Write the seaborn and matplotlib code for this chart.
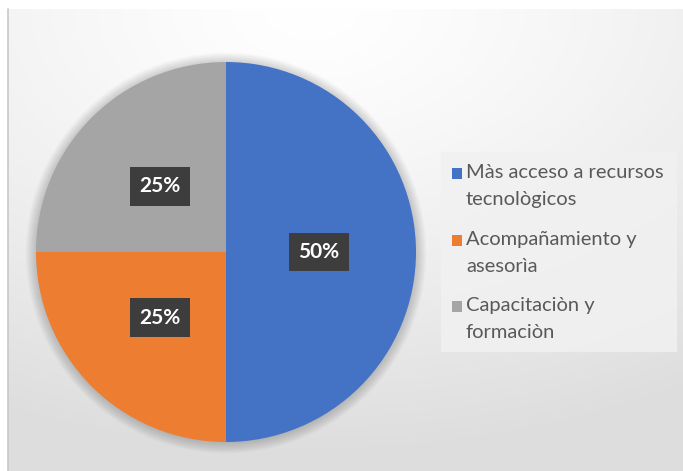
import numpy as np
import matplotlib
matplotlib.use("Agg")
import matplotlib.pyplot as plt
import seaborn as sns
from matplotlib.patches import Circle, Rectangle

sns.set_theme(style="white")
plt.rcParams['font.family'] = ['Lato', 'DejaVu Sans']

categories = ["Màs acceso a recursos\ntecnològicos", "Acompañamiento y\nasesorìa", "Capacitaciòn y\nformaciòn"]
values = [50, 25, 25]
colors = ["#4472C4", "#ED7D31", "#A5A5A5"]

W, H = 683, 471
fig = plt.figure(figsize=(W / 100, H / 100), dpi=100)
fig.patch.set_facecolor("white")

# background gradient panel
bg = fig.add_axes([8 / W, 0, 1 - 8 / W, 1 - 9 / H])
yy, xx = np.mgrid[0:1:300j, 0:1:400j]
d = np.sqrt(((xx - 0.45) * 1.0) ** 2 + ((yy - 0.0) * 1.1) ** 2)
val = 1.0 - 0.13 * np.clip(d / 1.05, 0, 1) ** 1.3
img = np.dstack([val, val, val])
bg.imshow(img, extent=[0, 1, 0, 1], origin="upper", aspect="auto")
bg.set_axis_off()
fig.add_artist(plt.Line2D([8 / W, 8 / W], [0, 1 - 9 / H], color="#c8c8c8", lw=1.2))

# pie
cx, cy, r = 226, 252, 190
m = 1.08
ax = fig.add_axes([(cx - r * m) / W, (H - cy - r * m) / H, 2 * r * m / W, 2 * r * m / H])
for k in range(10):
    ax.add_patch(Circle((0, -0.005), 1.0 + 0.006 * k, color="black", alpha=0.018, lw=0, zorder=0))
wedges, texts, autotexts = ax.pie(values, colors=colors, startangle=90, counterclock=False,
                                  autopct="%d%%", pctdistance=0.49, radius=1.0,
                                  wedgeprops=dict(linewidth=0),
                                  textprops=dict(color="white", fontsize=15, fontweight="bold"))
for t in autotexts:
    t.set_bbox(dict(boxstyle="square,pad=0.45", facecolor="#3d3d3d", edgecolor="none"))
ax.set_xlim(-m, m)
ax.set_ylim(-m, m)
ax.set_aspect("equal")
ax.set_axis_off()

# legend (drawn in pixel coordinates of the figure)
def fx(px):
    return px / W

def fy(py):
    return 1 - py / H

fig.add_artist(Rectangle((fx(441), fy(352)), fx(677) - fx(441), fy(152) - fy(352),
                         transform=fig.transFigure, facecolor="#f1f1f1", edgecolor="none", alpha=0.85))
first_line_y = [173, 240, 306]
for lab, c, ly in zip(categories, colors, first_line_y):
    fig.add_artist(Rectangle((fx(452), fy(ly + 6)), fx(462) - fx(452), fy(ly - 5) - fy(ly + 6),
                             transform=fig.transFigure, facecolor=c, edgecolor="none"))
    l1, l2 = lab.split("\n")
    fig.text(fx(466), fy(ly), l1, fontsize=14.5, color="#595959", va="center", ha="left")
    fig.text(fx(466), fy(ly + 26), l2, fontsize=14.5, color="#595959", va="center", ha="left")

fig.savefig("out.png", dpi=100)
